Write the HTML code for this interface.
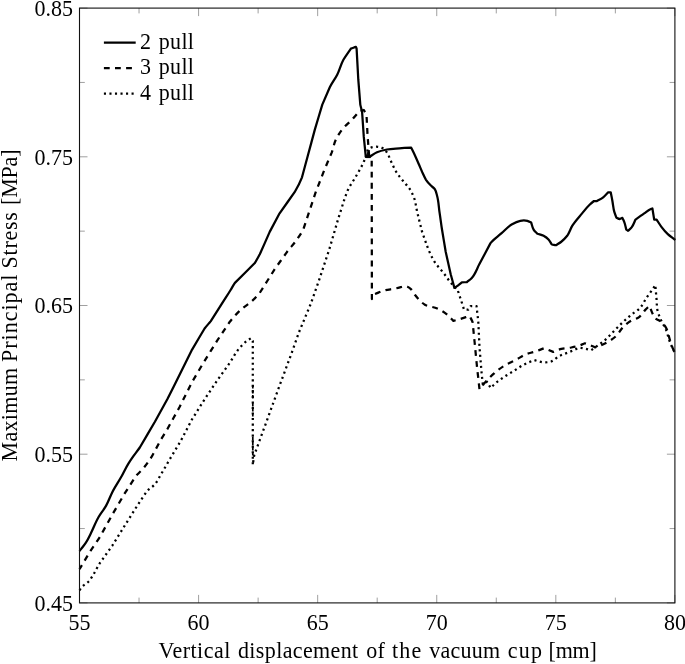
<!DOCTYPE html>
<html><head><meta charset="utf-8"><title>Maximum Principal Stress</title>
<style>html,body{margin:0;padding:0;background:#fff}svg{display:block}text{font-family:"Liberation Serif",serif;font-size:22px;fill:#000}</style></head><body>
<svg width="685" height="664" viewBox="0 0 685 664">
<rect width="685" height="664" fill="#fff"/>
<path d="M79.50,602.9 v-8.0 M79.50,8.1 v8.0 M139.04,602.9 v-5.3 M139.04,8.1 v5.3 M198.58,602.9 v-8.0 M198.58,8.1 v8.0 M258.12,602.9 v-5.3 M258.12,8.1 v5.3 M317.66,602.9 v-8.0 M317.66,8.1 v8.0 M377.20,602.9 v-5.3 M377.20,8.1 v5.3 M436.74,602.9 v-8.0 M436.74,8.1 v8.0 M496.28,602.9 v-5.3 M496.28,8.1 v5.3 M555.82,602.9 v-8.0 M555.82,8.1 v8.0 M615.36,602.9 v-5.3 M615.36,8.1 v5.3 M674.90,602.9 v-8.0 M674.90,8.1 v8.0 M79.5,602.90 h8.0 M674.9,602.90 h-8.0 M79.5,528.55 h5.3 M674.9,528.55 h-5.3 M79.5,454.20 h8.0 M674.9,454.20 h-8.0 M79.5,379.85 h5.3 M674.9,379.85 h-5.3 M79.5,305.50 h8.0 M674.9,305.50 h-8.0 M79.5,231.15 h5.3 M674.9,231.15 h-5.3 M79.5,156.80 h8.0 M674.9,156.80 h-8.0 M79.5,82.45 h5.3 M674.9,82.45 h-5.3 M79.5,8.10 h8.0 M674.9,8.10 h-8.0" stroke="#777" stroke-width="0.7" fill="none"/>
<g fill="none" stroke="#000" stroke-width="2.25" stroke-linejoin="round">
<path d="M79.5,551.0 C80.5,549.7 81.5,548.5 82.5,547.2 C83.7,545.7 84.8,544.2 85.9,542.6 C87.9,539.6 89.4,536.2 91.0,533.0 C93.7,527.7 95.6,522.1 98.6,517.0 C100.8,513.2 103.8,509.8 106.0,505.9 C108.5,501.5 110.0,496.7 112.3,492.2 C114.9,487.1 118.2,482.3 121.0,477.3 C123.5,472.8 125.7,468.0 128.4,463.6 C130.0,461.1 131.7,458.6 133.4,456.2 C135.5,453.3 137.7,450.5 139.8,447.5 C144.8,438.9 149.9,430.3 154.9,421.7 C159.0,414.2 163.2,406.8 167.3,399.3 C171.4,391.0 175.6,382.8 179.7,374.5 C183.8,366.2 188.0,357.9 192.1,349.6 C196.3,342.6 200.4,335.5 204.6,328.5 C206.6,325.9 208.8,323.6 210.8,321.1 C214.5,315.3 218.2,309.5 221.9,303.7 C224.8,299.1 227.8,294.6 230.6,290.0 C232.1,287.6 233.3,285.2 234.9,282.9 C241.5,276.3 248.2,269.6 254.8,263.0 C256.7,260.2 258.2,257.2 259.8,254.3 C263.1,246.8 266.4,239.4 269.7,231.9 C273.0,225.7 276.3,219.5 279.6,213.3 C284.6,206.3 289.6,199.2 294.6,192.2 C297.4,187.4 300.0,182.5 302.0,177.3 C303.9,170.1 305.9,163.0 307.8,155.8 C310.2,147.0 312.5,138.2 314.9,129.4 C317.4,121.1 319.8,112.9 322.3,104.6 C324.8,98.8 327.3,93.0 329.8,87.2 C332.0,82.9 335.0,79.0 337.2,74.7 C339.6,69.9 340.8,64.5 343.4,59.8 C345.6,55.9 348.4,52.3 350.9,48.6 C352.6,48.0 354.2,47.5 355.9,46.9 C356.1,47.5 356.4,48.0 356.6,48.6 C357.2,59.0 357.7,69.3 358.3,79.7 C359.0,88.0 359.6,96.3 360.3,104.6 C360.8,107.1 361.6,109.5 362.1,112.0 C362.7,120.3 363.2,128.6 363.8,136.9 C364.5,143.5 365.1,150.2 365.8,156.8 C367.0,156.8 368.3,156.8 369.5,156.8 C372.0,155.3 374.3,153.5 377.0,152.3 C380.1,150.9 383.5,150.2 386.9,149.5 C391.0,148.7 395.2,148.7 399.3,148.4 C403.3,148.1 407.2,147.9 411.2,147.7 C412.0,149.3 412.8,150.9 413.6,152.5 C415.3,156.1 416.9,159.8 418.5,163.5 C419.8,166.4 421.0,169.4 422.3,172.3 C423.5,174.8 424.5,177.5 426.0,179.8 C427.3,181.7 428.8,183.4 430.4,185.1 C431.8,186.6 433.7,187.5 434.8,189.2 C436.0,191.0 436.4,193.4 437.0,195.5 C438.6,200.9 438.7,206.6 439.5,212.1 C440.4,217.9 441.1,223.7 442.0,229.5 C443.2,236.9 444.5,244.4 445.7,251.8 C447.4,259.3 449.0,266.7 450.7,274.2 C451.9,278.8 453.2,283.3 454.4,287.9 C455.7,287.1 457.0,286.3 458.2,285.4 C459.5,284.5 460.7,283.4 461.9,282.4 C463.6,282.3 465.2,282.2 466.9,282.1 C468.5,280.7 470.3,279.5 471.8,277.9 C475.4,274.1 476.8,268.9 479.3,264.3 C483.0,257.2 486.8,250.2 490.5,243.1 C493.7,239.3 497.9,236.5 501.6,233.2 C504.9,230.3 507.8,226.7 511.6,224.5 C514.3,222.9 517.2,221.3 520.3,220.8 C522.6,220.4 525.1,220.3 527.4,220.9 C528.7,221.3 529.9,222.0 531.2,222.6 C532.0,224.9 532.3,227.5 533.6,229.6 C534.6,231.2 536.1,232.4 537.4,233.8 C539.5,234.5 541.7,234.8 543.6,235.8 C545.4,236.8 547.1,238.0 548.5,239.5 C549.9,241.0 550.7,242.8 551.8,244.5 C553.2,244.7 554.6,245.0 556.0,245.2 C557.7,244.1 559.4,243.2 561.0,242.0 C563.3,240.2 565.4,238.1 567.2,235.8 C569.4,232.8 570.3,229.1 572.2,225.9 C575.0,221.4 578.7,217.5 582.1,213.4 C584.5,210.5 586.8,207.3 589.6,204.7 C591.0,203.4 592.5,202.2 594.0,201.0 C595.0,201.0 596.0,201.0 597.0,201.0 C599.1,199.8 601.3,198.8 603.2,197.3 C605.1,195.8 606.5,194.0 608.2,192.3 C609.0,192.3 609.9,192.3 610.7,192.3 C611.3,195.2 611.9,198.1 612.4,201.0 C613.1,204.7 613.3,208.6 614.4,212.2 C615.0,214.1 615.7,215.9 616.4,217.7 C617.4,218.2 618.4,218.6 619.4,219.1 C620.4,218.7 621.4,218.3 622.4,217.9 C623.0,219.3 623.8,220.7 624.3,222.1 C625.2,224.5 625.6,227.1 626.3,229.6 C626.9,230.0 627.5,230.4 628.1,230.8 C629.3,229.6 630.7,228.5 631.8,227.1 C633.5,224.9 634.3,222.1 635.5,219.6 C638.4,217.5 641.3,215.4 644.2,213.4 C646.3,212.0 648.1,210.2 650.4,209.2 C651.1,208.9 651.7,208.7 652.4,208.5 C653.0,212.2 653.6,215.9 654.2,219.6 C655.0,219.6 655.8,219.6 656.6,219.6 C658.3,222.1 659.8,224.7 661.6,227.1 C663.5,229.6 665.5,232.0 667.8,234.1 C670.1,236.3 672.8,238.0 675.3,240.0"/>
<path d="M79.5,569.2 C83.0,563.4 86.4,557.6 89.9,551.8 C93.1,546.8 96.7,542.0 99.9,536.9 C104.0,529.5 108.2,522.0 112.3,514.6 C116.4,507.5 120.6,500.5 124.7,493.4 C128.4,487.6 132.2,481.8 135.9,476.0 C137.8,473.8 140.1,472.0 142.1,469.8 C145.8,465.6 149.0,460.9 152.0,456.2 C154.9,450.8 157.8,445.4 160.7,440.0 C162.8,436.4 165.2,432.8 167.3,429.2 C171.4,421.7 175.6,414.3 179.7,406.8 C183.8,398.5 188.0,390.2 192.1,381.9 C196.3,374.9 200.4,367.8 204.6,360.8 C208.7,354.2 212.9,347.5 217.0,340.9 C221.1,334.7 225.3,328.5 229.4,322.3 C232.5,318.4 235.7,314.5 239.3,311.1 C243.1,307.4 247.9,304.8 251.8,301.2 C254.6,298.6 257.3,295.7 259.8,292.8 C264.8,284.9 269.7,277.1 274.7,269.2 C278.8,263.4 283.0,257.6 287.1,251.8 C290.3,247.6 294.0,243.7 297.0,239.4 C299.2,236.2 301.5,233.0 303.3,229.5 C305.4,223.3 307.4,217.0 309.5,210.8 C311.6,204.6 313.6,198.4 315.7,192.2 C318.6,184.7 321.5,177.3 324.4,169.8 C326.9,164.0 329.3,158.2 331.8,152.4 C333.4,148.1 334.0,143.4 336.0,139.3 C337.7,135.8 339.8,132.5 342.2,129.4 C345.1,125.7 348.9,122.9 352.1,119.5 C354.7,116.7 357.1,113.7 359.6,110.8 C361.0,110.5 362.4,110.3 363.8,110.0 C364.7,111.5 365.6,113.0 366.5,114.5 C366.8,121.1 367.2,127.8 367.5,134.4 C368.0,141.0 368.5,147.7 369.0,154.3 C369.7,156.3 370.8,158.1 371.7,160.0 C371.8,206.3 371.8,252.7 371.9,299.0 C372.9,297.3 373.9,295.7 374.9,294.0 C378.2,292.8 381.5,291.2 384.9,290.3 C388.1,289.4 391.5,289.3 394.8,288.6 C398.1,287.9 401.4,286.9 404.7,286.1 C405.6,286.3 406.6,286.4 407.5,286.8 C408.8,287.3 409.9,288.2 410.9,289.1 C412.6,290.6 413.5,293.0 414.9,294.8 C417.8,298.5 420.9,302.3 424.9,304.7 C428.6,306.9 433.4,306.7 437.3,308.5 C440.8,310.1 444.2,312.2 447.2,314.7 C449.5,316.6 451.3,318.8 453.4,320.9 C456.3,320.1 459.2,319.3 462.1,318.4 C464.6,317.6 467.1,316.7 469.6,315.9 C470.6,318.0 471.8,320.0 472.6,322.1 C473.3,328.7 473.9,335.4 474.6,342.0 C475.4,350.3 476.2,358.6 477.0,366.9 C477.8,374.3 478.7,381.8 479.5,389.2 C481.6,386.7 483.5,384.2 485.7,381.8 C488.5,378.8 491.3,375.8 494.4,373.1 C497.5,370.4 500.9,367.8 504.4,365.6 C508.3,363.2 512.7,361.6 516.8,359.4 C520.1,357.6 523.2,355.2 526.7,353.9 C529.1,353.0 531.7,352.7 534.2,351.9 C537.6,350.9 540.8,349.4 544.1,348.2 C547.1,349.4 550.2,350.7 553.2,351.9 C555.9,350.9 558.6,349.5 561.4,348.8 C564.1,348.2 566.9,348.2 569.6,347.8 C572.3,347.3 575.1,346.9 577.7,346.1 C580.2,345.4 582.5,344.2 584.9,343.3 C586.3,343.8 587.7,344.2 589.0,344.7 C591.1,345.5 593.1,346.5 595.1,347.4 C598.2,346.2 601.4,345.2 604.4,343.7 C608.4,341.7 612.3,339.5 615.6,336.5 C618.8,333.6 620.6,329.3 623.8,326.3 C626.0,324.2 628.4,322.4 631.0,320.8 C633.5,319.3 636.7,318.9 639.1,317.1 C641.6,315.2 643.1,312.2 645.3,309.9 C646.6,308.5 648.0,307.2 649.4,305.8 C650.1,307.5 650.7,309.2 651.4,310.9 C652.4,313.3 653.5,315.7 654.5,318.1 C656.9,319.5 659.6,320.4 661.7,322.2 C663.3,323.7 664.6,325.4 665.8,327.3 C668.1,331.0 668.4,335.5 669.8,339.6 C671.1,343.4 672.0,347.3 673.9,350.8 C674.3,351.5 674.8,352.3 675.2,353.0" stroke-dasharray="5.8 5.3" stroke-dashoffset="1.1"/>
<path d="M79.6,590.3 C80.4,589.1 81.0,587.7 82.0,586.7 C82.8,585.8 83.9,585.3 84.9,584.5 C86.4,583.3 88.0,582.2 89.3,580.8 C90.4,579.5 91.3,578.0 92.2,576.5 C95.0,572.2 97.1,567.4 99.9,563.0 C104.0,557.2 108.2,551.4 112.3,545.6 C116.4,539.0 120.6,532.3 124.7,525.7 C128.8,519.1 133.0,512.5 137.1,505.9 C140.4,500.9 143.8,495.9 147.1,490.9 C149.3,488.6 152.4,487.1 154.5,484.7 C157.1,481.8 158.7,478.1 160.7,474.8 C163.7,469.9 166.5,464.9 169.4,459.9 C173.1,453.7 176.9,447.4 180.6,441.2 C184.4,433.9 188.3,426.5 192.1,419.2 C196.3,412.6 200.4,405.9 204.6,399.3 C208.7,393.1 212.9,386.9 217.0,380.7 C221.1,374.9 225.3,369.1 229.4,363.3 C232.8,358.4 235.4,352.9 239.3,348.4 C241.6,345.7 244.0,343.0 246.8,340.9 C248.2,339.9 249.7,339.0 251.1,338.1 C251.7,339.1 252.2,340.0 252.8,341.0 C252.8,382.3 252.8,423.7 252.8,465.0 C253.3,461.7 253.6,458.3 254.3,455.0 C257.6,446.0 260.9,436.9 264.2,427.9 C269.2,414.2 274.1,400.6 279.1,386.9 C283.2,375.7 287.4,364.6 291.5,353.4 C294.0,346.3 296.5,339.3 299.0,332.2 C302.9,322.8 306.8,313.4 310.7,304.0 C313.6,295.7 316.5,287.5 319.4,279.2 C322.7,269.2 326.0,259.3 329.3,249.3 C332.2,239.4 335.1,229.4 338.0,219.5 C340.1,212.9 342.2,206.2 344.3,199.6 C345.5,196.3 346.5,192.9 348.0,189.7 C350.0,185.3 353.0,181.5 355.4,177.3 C358.0,172.8 360.7,168.3 362.9,163.6 C364.0,161.2 365.1,158.7 366.0,156.2 C366.8,153.8 367.3,151.4 367.9,149.0 C369.4,148.4 370.8,147.6 372.4,147.2 C374.1,146.8 375.9,146.6 377.7,146.8 C379.8,147.0 381.7,147.9 383.7,148.5 C384.7,149.7 385.8,150.9 386.7,152.2 C388.7,155.1 389.7,158.5 391.2,161.7 C392.9,165.3 394.4,168.9 396.5,172.3 C398.5,175.5 401.0,178.4 403.3,181.3 C405.3,183.8 407.7,186.0 409.5,188.7 C411.1,191.1 412.5,193.8 413.6,196.5 C415.6,201.4 416.0,206.9 417.2,212.1 C418.8,218.7 420.5,225.3 422.1,231.9 C424.2,237.7 426.2,243.5 428.3,249.3 C430.2,253.6 432.1,257.9 434.6,261.8 C437.4,266.3 441.3,270.0 444.5,274.2 C447.0,277.5 449.2,281.0 452.0,284.1 C453.2,285.4 454.2,287.0 455.7,287.9 C456.2,288.2 456.7,288.4 457.2,288.6 C458.4,292.3 459.7,296.1 460.9,299.8 C462.0,303.1 463.0,306.4 464.1,309.7 C465.5,309.7 466.9,309.7 468.3,309.7 C469.1,308.5 470.0,307.2 470.8,306.0 C472.7,306.0 474.6,306.0 476.5,306.0 C477.1,311.4 477.8,316.7 478.3,322.1 C478.7,330.4 479.1,338.7 479.5,347.0 C480.2,355.3 480.8,363.5 481.5,371.8 C481.9,376.0 482.4,380.1 482.8,384.3 C484.2,383.5 485.6,382.6 487.0,381.8 C488.2,383.9 489.5,385.9 490.7,388.0 C492.4,386.3 493.9,384.6 495.7,383.0 C498.4,380.7 501.4,378.8 504.4,376.8 C507.6,374.6 511.0,372.7 514.3,370.6 C517.6,368.5 520.8,366.2 524.3,364.4 C527.5,362.7 530.9,361.5 534.2,360.1 C537.5,360.9 540.7,362.3 544.1,362.4 C546.5,362.4 548.9,362.2 551.1,361.5 C554.2,360.5 556.4,357.6 559.3,356.0 C562.6,354.3 566.2,353.3 569.6,351.9 C572.7,350.6 575.7,349.2 578.8,347.8 C580.5,348.0 582.2,348.1 583.9,348.4 C586.3,348.8 588.6,349.6 591.0,350.2 C592.7,349.0 594.5,347.9 596.2,346.7 C599.0,344.7 601.8,342.8 604.4,340.6 C608.1,337.5 611.2,333.8 614.6,330.4 C617.3,327.7 620.0,324.8 622.8,322.2 C625.5,319.7 628.2,317.3 631.0,315.0 C633.6,312.9 636.7,311.3 639.1,308.9 C642.6,305.4 644.5,300.6 647.3,296.6 C649.0,294.2 650.9,291.9 652.5,289.4 C653.5,288.0 654.4,286.5 655.3,285.0 C655.7,289.6 656.1,294.1 656.5,298.7 C656.9,302.8 656.6,306.9 657.6,310.9 C658.3,313.7 659.5,316.4 660.6,319.1 C662.1,322.6 664.3,325.9 665.8,329.4 C667.5,333.3 668.2,337.6 669.8,341.6 C671.0,344.7 672.3,347.9 673.9,350.8 C674.3,351.5 674.8,352.3 675.2,353.0" stroke-dasharray="2.1 3.43"/>
<path d="M252.8,385 V400 M252.8,403 V419 M252.8,437 V456" stroke-width="1.7" stroke-dasharray="3.6 1.4"/>
<path d="M366.2,157.6 L368.0,151.6 L370.4,157.6 Z" fill="#000" stroke-width="1"/>
<path d="M103.9,42.7 H135.7"/>
<path d="M103.9,68.15 H135.2" stroke-dasharray="5.8 5.3"/>
<path d="M103.9,93.5 H135.2" stroke-dasharray="2.1 3.43"/>
</g>
<rect x="79.5" y="8.1" width="595.4" height="594.8" fill="none" stroke="#111" stroke-width="1.1"/>
<text transform="translate(79.5,630.0) scale(1,1.09)" text-anchor="middle" font-size="22.5">55</text>
<text transform="translate(198.6,630.0) scale(1,1.09)" text-anchor="middle" font-size="22.5">60</text>
<text transform="translate(317.7,630.0) scale(1,1.09)" text-anchor="middle" font-size="22.5">65</text>
<text transform="translate(436.7,630.0) scale(1,1.09)" text-anchor="middle" font-size="22.5">70</text>
<text transform="translate(555.8,630.0) scale(1,1.09)" text-anchor="middle" font-size="22.5">75</text>
<text transform="translate(674.9,630.0) scale(1,1.09)" text-anchor="middle" font-size="22.5">80</text>
<text transform="translate(72.9,610.6) scale(1,1.09)" text-anchor="end" font-size="22.5">0.45</text>
<text transform="translate(72.9,461.9) scale(1,1.09)" text-anchor="end" font-size="22.5">0.55</text>
<text transform="translate(72.9,313.2) scale(1,1.09)" text-anchor="end" font-size="22.5">0.65</text>
<text transform="translate(72.9,164.5) scale(1,1.09)" text-anchor="end" font-size="22.5">0.75</text>
<text transform="translate(72.9,15.8) scale(1,1.09)" text-anchor="end" font-size="22.5">0.85</text>
<text transform="translate(139.9,48.9) scale(1,1.05)"><tspan x="0">2 </tspan><tspan x="18.8" letter-spacing="0.35">pull</tspan></text>
<text transform="translate(139.9,74.2) scale(1,1.05)"><tspan x="0">3 </tspan><tspan x="18.8" letter-spacing="0.35">pull</tspan></text>
<text transform="translate(139.9,99.6) scale(1,1.05)"><tspan x="0">4 </tspan><tspan x="18.8" letter-spacing="0.35">pull</tspan></text>
<text transform="translate(0,657.6) scale(1,1.07)"><tspan x="158.5" letter-spacing="0.5">Vertical </tspan><tspan x="238.0" letter-spacing="0.38">displacement </tspan><tspan x="366.3" letter-spacing="0.1">of </tspan><tspan x="392.0" letter-spacing="1.2">the </tspan><tspan x="429.2" letter-spacing="0.26">vacuum </tspan><tspan x="507.8" letter-spacing="1.2">cup </tspan><tspan x="548.6" letter-spacing="-0.2">[mm]</tspan></text>
<text transform="translate(17.4,461.5) rotate(-90) scale(1,1.07)"><tspan x="0.0" letter-spacing="0.35">Maximum </tspan><tspan x="99.5" letter-spacing="1.0">Principal </tspan><tspan x="193.1" letter-spacing="0.76">Stress </tspan><tspan x="256.6" letter-spacing="-0.2">[MPa]</tspan></text>
</svg></body></html>
